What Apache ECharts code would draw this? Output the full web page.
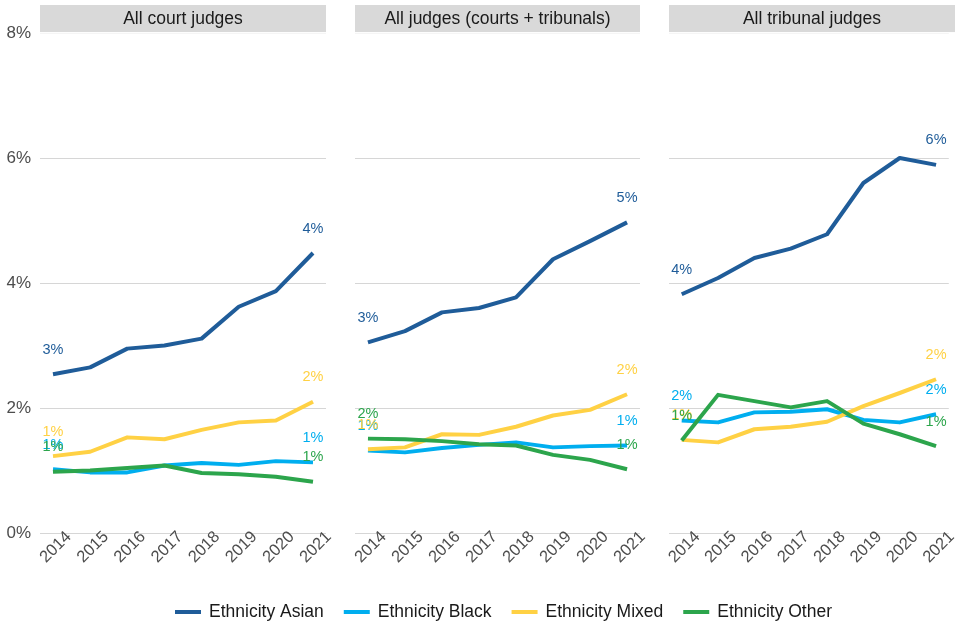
<!DOCTYPE html>
<html>
<head>
<meta charset="utf-8">
<script src="https://cdn.jsdelivr.net/npm/echarts@6/dist/echarts.min.js"></script>
<style>html,body{margin:0;padding:0;background:#fff}#c{width:960px;height:640px}</style>
</head>
<body>
<div id="c"></div>
<script>
const years = [2014, 2015, 2016, 2017, 2018, 2019, 2020, 2021];
const panels = ['All court judges', 'All judges (courts + tribunals)', 'All tribunal judges'];
const seriesNames = ['Ethnicity Asian', 'Ethnicity Black', 'Ethnicity Mixed', 'Ethnicity Other'];
const yTicks = [0, 2, 4, 6, 8];

// All court judges
const courtAsian = [2.54, 2.65, 2.95, 3.00, 3.11, 3.62, 3.87, 4.48];
const courtBlack = [1.02, 0.97, 0.97, 1.08, 1.12, 1.09, 1.15, 1.13];
const courtMixed = [1.23, 1.30, 1.53, 1.50, 1.65, 1.77, 1.80, 2.10];
const courtOther = [0.98, 1.00, 1.04, 1.08, 0.96, 0.94, 0.90, 0.82];

// All judges (courts + tribunals)
const allAsian = [3.05, 3.23, 3.53, 3.60, 3.77, 4.38, 4.67, 4.97];
const allBlack = [1.32, 1.29, 1.36, 1.41, 1.45, 1.37, 1.39, 1.40];
const allMixed = [1.34, 1.37, 1.58, 1.57, 1.70, 1.88, 1.97, 2.22];
const allOther = [1.51, 1.50, 1.47, 1.42, 1.40, 1.25, 1.17, 1.02];

// All tribunal judges
const tribAsian = [3.82, 4.08, 4.40, 4.55, 4.78, 5.60, 6.00, 5.89];
const tribBlack = [1.80, 1.77, 1.93, 1.94, 1.98, 1.81, 1.77, 1.90];
const tribMixed = [1.49, 1.45, 1.66, 1.70, 1.78, 2.03, 2.24, 2.46];
const tribOther = [1.48, 2.21, 2.11, 2.01, 2.11, 1.75, 1.58, 1.39];

const panelData = [
  [courtAsian, courtBlack, courtMixed, courtOther],
  [allAsian, allBlack, allMixed, allOther],
  [tribAsian, tribBlack, tribMixed, tribOther]
];
const colors = ['#1f5c99', '#00aeef', '#ffd144', '#2ca54c'];

const FONT = 'Liberation Sans, Arial, sans-serif';
const gridLefts = [40, 355, 669];
const gridWidths = [286, 285, 286];
const gridTop = 33, gridHeight = 500;

const grids = [], xAxes = [], yAxes = [], series = [], graphics = [];
panels.forEach((title, p) => {
  grids.push({left: gridLefts[p], top: gridTop, width: gridWidths[p], height: gridHeight, containLabel: false});
  xAxes.push({
    type: 'value', gridIndex: p, min: 2013.65, max: 2021.35,
    axisLine: {show: false}, axisTick: {show: false}, splitLine: {show: false},
    axisLabel: {
      customValues: years, rotate: 45, align: 'center', verticalAlign: 'middle',
      margin: 17, padding: [0, 0, 0, 8],
      color: '#4d4d4d', fontSize: 16.5, fontFamily: FONT,
      formatter: v => String(Math.round(v))
    }
  });
  yAxes.push({
    type: 'value', gridIndex: p, min: 0, max: 8, interval: 2,
    axisLine: {show: false}, axisTick: {show: false},
    splitLine: {show: true, lineStyle: {color: '#d6d6d6', width: 1}},
    axisLabel: {
      show: p === 0, color: '#4d4d4d', fontSize: 17, fontFamily: FONT, margin: 9,
      formatter: v => v + '%'
    }
  });
  graphics.push({
    type: 'rect', x: gridLefts[p], y: 5,
    shape: {x: 0, y: 0, width: gridWidths[p], height: 27.3},
    style: {fill: '#d9d9d9'}, silent: true, z: 10
  });
  graphics.push({
    type: 'rect', x: gridLefts[p], y: 32.3,
    shape: {x: 0, y: 0, width: gridWidths[p], height: 1.5},
    style: {fill: '#ffffff'}, silent: true, z: 10
  });
  graphics.push({
    type: 'text', x: gridLefts[p] + gridWidths[p] / 2, y: 19,
    style: {text: title, fill: '#1a1a1a', fontSize: 17.5, fontFamily: FONT, align: 'center', verticalAlign: 'middle'},
    silent: true, z: 11
  });
  panelData[p].forEach((vals, s) => {
    series.push({
      name: seriesNames[s], type: 'line', xAxisIndex: p, yAxisIndex: p,
      showSymbol: true, symbol: 'circle', symbolSize: 0, smooth: false,
      lineStyle: {color: colors[s], width: 4, cap: 'butt', join: 'round'},
      itemStyle: {color: colors[s]},
      z: 2 + s,
      data: vals.map((v, i) => {
        const item = {value: [years[i], v]};
        if (i === 0 || i === vals.length - 1) {
          item.label = {
            show: true, position: 'top', distance: 17,
            color: colors[s], fontSize: 14.5, fontFamily: FONT,
            formatter: prm => Math.round(prm.value[1]) + '%'
          };
        }
        return item;
      })
    });
  });
});

const chart = echarts.init(document.getElementById('c'), null, {renderer: 'canvas'});
chart.setOption({
  animation: false,
  backgroundColor: '#ffffff',
  textStyle: {fontFamily: FONT},
  grid: grids, xAxis: xAxes, yAxis: yAxes, series: series,
  graphic: graphics,
  legend: {
    data: seriesNames.map((n, i) => ({name: n, itemStyle: {color: colors[i]}})),
    bottom: 14, left: 170, icon: 'rect', itemWidth: 26, itemHeight: 4, itemGap: 20,
    textStyle: {color: '#1a1a1a', fontSize: 17.5, fontFamily: FONT, padding: [0, 0, 0, 3]},
    selectedMode: false
  }
});
</script>
</body>
</html>
